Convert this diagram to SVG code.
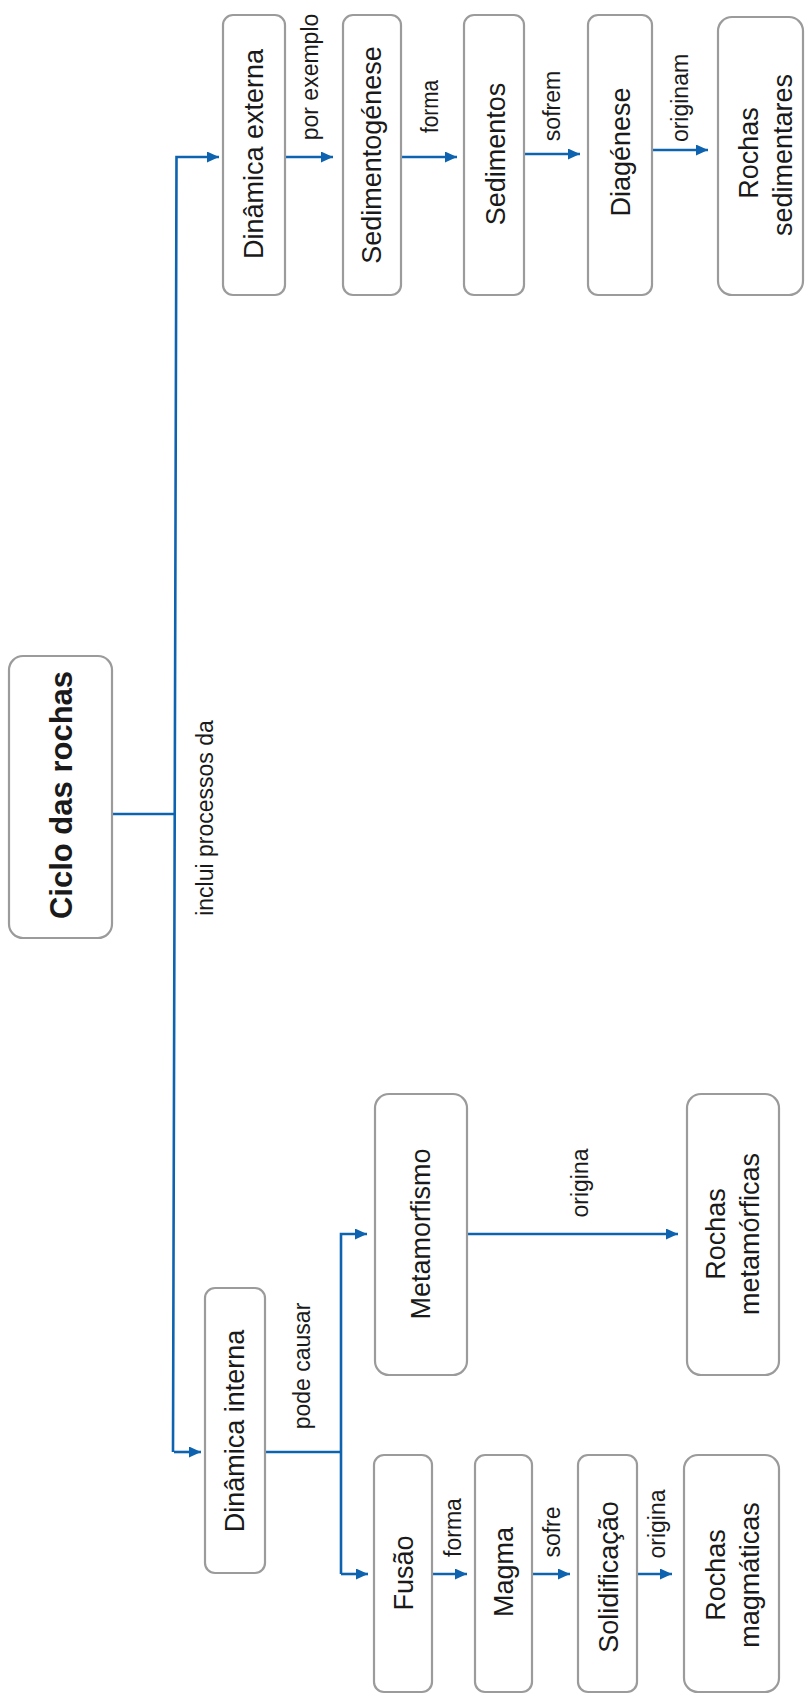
<svg xmlns="http://www.w3.org/2000/svg" width="805" height="1695" viewBox="0 0 805 1695">
<style>
.box{fill:#fff;stroke:#9b9b9b;stroke-width:2.2}
.con{fill:none;stroke:#0d63b0;stroke-width:2.6}
.t{font-family:"Liberation Sans",Arial,sans-serif;font-size:27px;fill:#1a1a1a;text-anchor:middle}
.l{font-family:"Liberation Sans",Arial,sans-serif;font-size:23px;fill:#1a1a1a;text-anchor:middle}
.title{font-family:"Liberation Sans",Arial,sans-serif;font-size:31px;font-weight:bold;fill:#1a1a1a;text-anchor:middle}
</style>
<defs>
<marker id="arr" markerUnits="userSpaceOnUse" markerWidth="13" markerHeight="12" refX="12" refY="5.5" orient="auto">
<path d="M0,0 L12,5.5 L0,11 z" fill="#0d63b0"/>
</marker>
</defs>
<rect width="805" height="1695" fill="#fff"/>

<g id="connectors">
<path class="con" d="M112,814 H175"/>
<path class="con" d="M173,1452 L176.5,157 H219" marker-end="url(#arr)"/>
<path class="con" d="M174,1452 H201" marker-end="url(#arr)"/>
<path class="con" d="M285,157 H333" marker-end="url(#arr)"/>
<path class="con" d="M401,157 H457" marker-end="url(#arr)"/>
<path class="con" d="M524,154 H580" marker-end="url(#arr)"/>
<path class="con" d="M652,150 H708" marker-end="url(#arr)"/>
<path class="con" d="M265,1452 H341"/>
<path class="con" d="M341,1574 V1234 H367" marker-end="url(#arr)"/>
<path class="con" d="M341,1574 H368" marker-end="url(#arr)"/>
<path class="con" d="M468,1234 H678" marker-end="url(#arr)"/>
<path class="con" d="M432,1574 H467" marker-end="url(#arr)"/>
<path class="con" d="M532,1574 H570" marker-end="url(#arr)"/>
<path class="con" d="M637,1574 H672" marker-end="url(#arr)"/>
</g>

<g id="labels">
<text class="l" transform="translate(213,818) rotate(-90)">inclui processos da</text>
<text class="l" transform="translate(318,77) rotate(-90)">por exemplo</text>
<text class="l" transform="translate(438,106.5) rotate(-90)" textLength="53" lengthAdjust="spacingAndGlyphs">forma</text>
<text class="l" transform="translate(560,106) rotate(-90)">sofrem</text>
<text class="l" transform="translate(688,98) rotate(-90)">originam</text>
<text class="l" transform="translate(310,1366) rotate(-90)">pode causar</text>
<text class="l" transform="translate(588,1183) rotate(-90)">origina</text>
<text class="l" transform="translate(461,1527.5) rotate(-90)">forma</text>
<text class="l" transform="translate(560,1532) rotate(-90)">sofre</text>
<text class="l" transform="translate(665,1524) rotate(-90)">origina</text>
</g>

<g id="ciclo">
<rect class="box" x="9" y="656" width="103" height="282" rx="14"/>
<text class="title" transform="translate(72,795) rotate(-90)">Ciclo das rochas</text>
</g>
<g id="dinamica-externa">
<rect class="box" x="223" y="15" width="62" height="280" rx="10"/>
<text class="t" transform="translate(263,154) rotate(-90)">Dinâmica externa</text>
</g>
<g id="sedimentogenese">
<rect class="box" x="343" y="15" width="58" height="280" rx="10"/>
<text class="t" transform="translate(381,155) rotate(-90)">Sedimentogénese</text>
</g>
<g id="sedimentos">
<rect class="box" x="464" y="15" width="60" height="280" rx="10"/>
<text class="t" transform="translate(505,154) rotate(-90)">Sedimentos</text>
</g>
<g id="diagenese">
<rect class="box" x="588" y="15" width="64" height="280" rx="10"/>
<text class="t" transform="translate(630,152) rotate(-90)">Diagénese</text>
</g>
<g id="rochas-sedimentares">
<rect class="box" x="718" y="17" width="85" height="278" rx="14"/>
<text class="t" transform="translate(758,153) rotate(-90)">Rochas</text>
<text class="t" transform="translate(792,155) rotate(-90)">sedimentares</text>
</g>
<g id="dinamica-interna">
<rect class="box" x="205" y="1288" width="60" height="285" rx="10"/>
<text class="t" transform="translate(244,1431) rotate(-90)">Dinâmica interna</text>
</g>
<g id="metamorfismo">
<rect class="box" x="375" y="1094" width="92" height="281" rx="14"/>
<text class="t" transform="translate(430,1234) rotate(-90)">Metamorfismo</text>
</g>
<g id="rochas-metamorficas">
<rect class="box" x="687" y="1094" width="92" height="281" rx="14"/>
<text class="t" transform="translate(725,1234) rotate(-90)">Rochas</text>
<text class="t" transform="translate(759,1234) rotate(-90)">metamórficas</text>
</g>
<g id="fusao">
<rect class="box" x="374" y="1455" width="58" height="237" rx="10"/>
<text class="t" transform="translate(413,1573) rotate(-90)">Fusão</text>
</g>
<g id="magma">
<rect class="box" x="475" y="1455" width="57" height="237" rx="10"/>
<text class="t" transform="translate(513,1572) rotate(-90)">Magma</text>
</g>
<g id="solidificacao">
<rect class="box" x="578" y="1455" width="59" height="237" rx="10"/>
<text class="t" transform="translate(618,1577) rotate(-90)">Solidificação</text>
</g>
<g id="rochas-magmaticas">
<rect class="box" x="684" y="1455" width="95" height="237" rx="14"/>
<text class="t" transform="translate(725,1575) rotate(-90)">Rochas</text>
<text class="t" transform="translate(759,1575) rotate(-90)">magmáticas</text>
</g>
</svg>
